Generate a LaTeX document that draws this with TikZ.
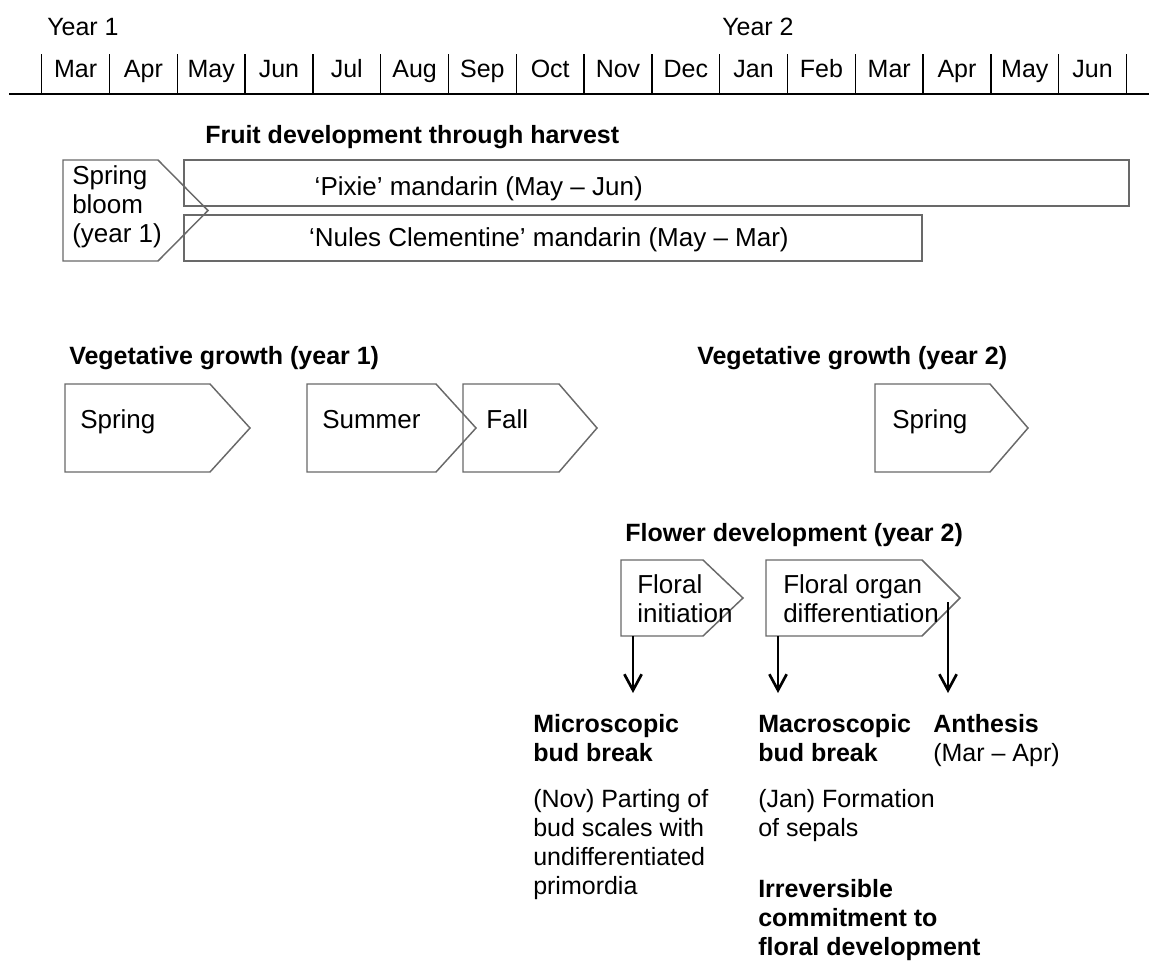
\documentclass[tikz,border=0pt]{standalone}
\usepackage{fontspec}
\setmainfont{Liberation Sans}
\usetikzlibrary{arrows.meta}
\newcommand\fs{\fontsize{18.75}{21.75}\selectfont}
\newcommand\fb{\fontsize{19.5}{21.75}\selectfont}
\newcommand\mlines[1]{\begin{tabular}[t]{@{}l@{}}#1\end{tabular}}
\definecolor{boxgray}{RGB}{105,105,105}
\begin{document}
\begin{tikzpicture}[x=0.75pt,y=-0.75pt,
  txt/.style={font=\fs, inner sep=0pt, anchor=base west},
  btxt/.style={font=\fb, inner sep=0pt, anchor=base west},
  hd/.style={font=\fs\bfseries, inner sep=0pt, anchor=base west},
  mon/.style={font=\fs, inner sep=0pt, anchor=base},
  bx/.style={draw=boxgray, line width=1.1pt},
  bar/.style={line width=1.1pt},
  arr/.style={line width=2pt, -{Straight Barb[length=12pt,width=13pt,line width=2pt]}}]
\useasboundingbox (0,0) rectangle (1149,961);

% timeline
\node[txt] (y1) at (47,35) {Year 1};
\node[txt] (y2) at (722,35) {Year 2};
\draw[bar] (9,94) -- (1149,94);
\foreach \k in {0,...,16} \draw[bar] ({41.7+67.8*\k},54) -- ({41.7+67.8*\k},94);
\foreach \m [count=\i from 0] in {Mar,Apr,May,Jun,Jul,Aug,Sep,Oct,Nov,Dec,Jan,Feb,Mar,Apr,May,Jun}
  \node[mon] (m\i) at ({41.7+67.8*(\i+0.5)},77) {\m};

% fruit development
\node[hd] (fruit) at (205,143) {Fruit development through harvest};
\draw[bx] (63,160) -- (158,160) -- (208,210.5) -- (158,261) -- (63,261) -- cycle;
\node[btxt] (bloom) at (72,184) {\mlines{Spring\\bloom\\(year 1)}};
\draw[bx] (184,160) rectangle (1129,206);
\node[btxt, anchor=base east] (pixie) at (643,195) {‘Pixie’ mandarin (May – Jun)};
\draw[bx] (184,215) rectangle (922,261);
\node[btxt, anchor=base east] (nules) at (789,246) {‘Nules Clementine’ mandarin (May – Mar)};

% vegetative growth
\node[hd] (veg1) at (69,364) {Vegetative growth (year 1)};
\node[hd] (veg2) at (697,364) {Vegetative growth (year 2)};
\draw[bx] (65,384) -- (210,384) -- (250,428) -- (210,472) -- (65,472) -- cycle;
\draw[bx] (307,384) -- (436,384) -- (476,428) -- (436,472) -- (307,472) -- cycle;
\draw[bx] (463,384) -- (559,384) -- (597,428) -- (559,472) -- (463,472) -- cycle;
\draw[bx] (875,384) -- (990,384) -- (1028,428) -- (990,472) -- (875,472) -- cycle;
\node[btxt] (sp1) at (80,428) {Spring};
\node[btxt] (su1) at (322,428) {Summer};
\node[btxt] (fa1) at (486,428) {Fall};
\node[btxt] (sp2) at (892,428) {Spring};

% flower development
\node[hd] (flower) at (625,541) {Flower development (year 2)};
\draw[bx] (621,560) -- (703,560) -- (743,598) -- (703,636) -- (621,636) -- cycle;
\draw[bx] (766,560) -- (922,560) -- (960,598) -- (922,636) -- (766,636) -- cycle;
\node[btxt] (init) at (637,593) {\mlines{Floral\\initiation}};
\node[btxt] (organ) at (783,593) {\mlines{Floral organ\\differentiation}};

\coordinate (a1s) at (633,636); \coordinate (a1e) at (633,693);
\coordinate (a2s) at (778,636); \coordinate (a2e) at (778,693);
\coordinate (a3s) at (948,602); \coordinate (a3e) at (948,693);
\draw[arr] (a1s) -- (a1e);
\draw[arr] (a2s) -- (a2e);
\draw[arr] (a3s) -- (a3e);

% stages
\node[hd] (micro) at (533,732) {\mlines{Microscopic\\bud break}};
\node[txt] (microd) at (533,807) {\mlines{(Nov) Parting of\\bud scales with\\undifferentiated\\primordia}};
\node[hd] (macro) at (758,732) {\mlines{Macroscopic\\bud break}};
\node[txt] (macrod) at (758,807) {\mlines{(Jan) Formation\\of sepals}};
\node[hd] (irr) at (758,897) {\mlines{Irreversible\\commitment to\\floral development}};
\node[hd] (anth) at (933,732) {Anthesis};
\node[txt] (anthd) at (933,761) {(Mar – Apr)};
\end{tikzpicture}
\end{document}
